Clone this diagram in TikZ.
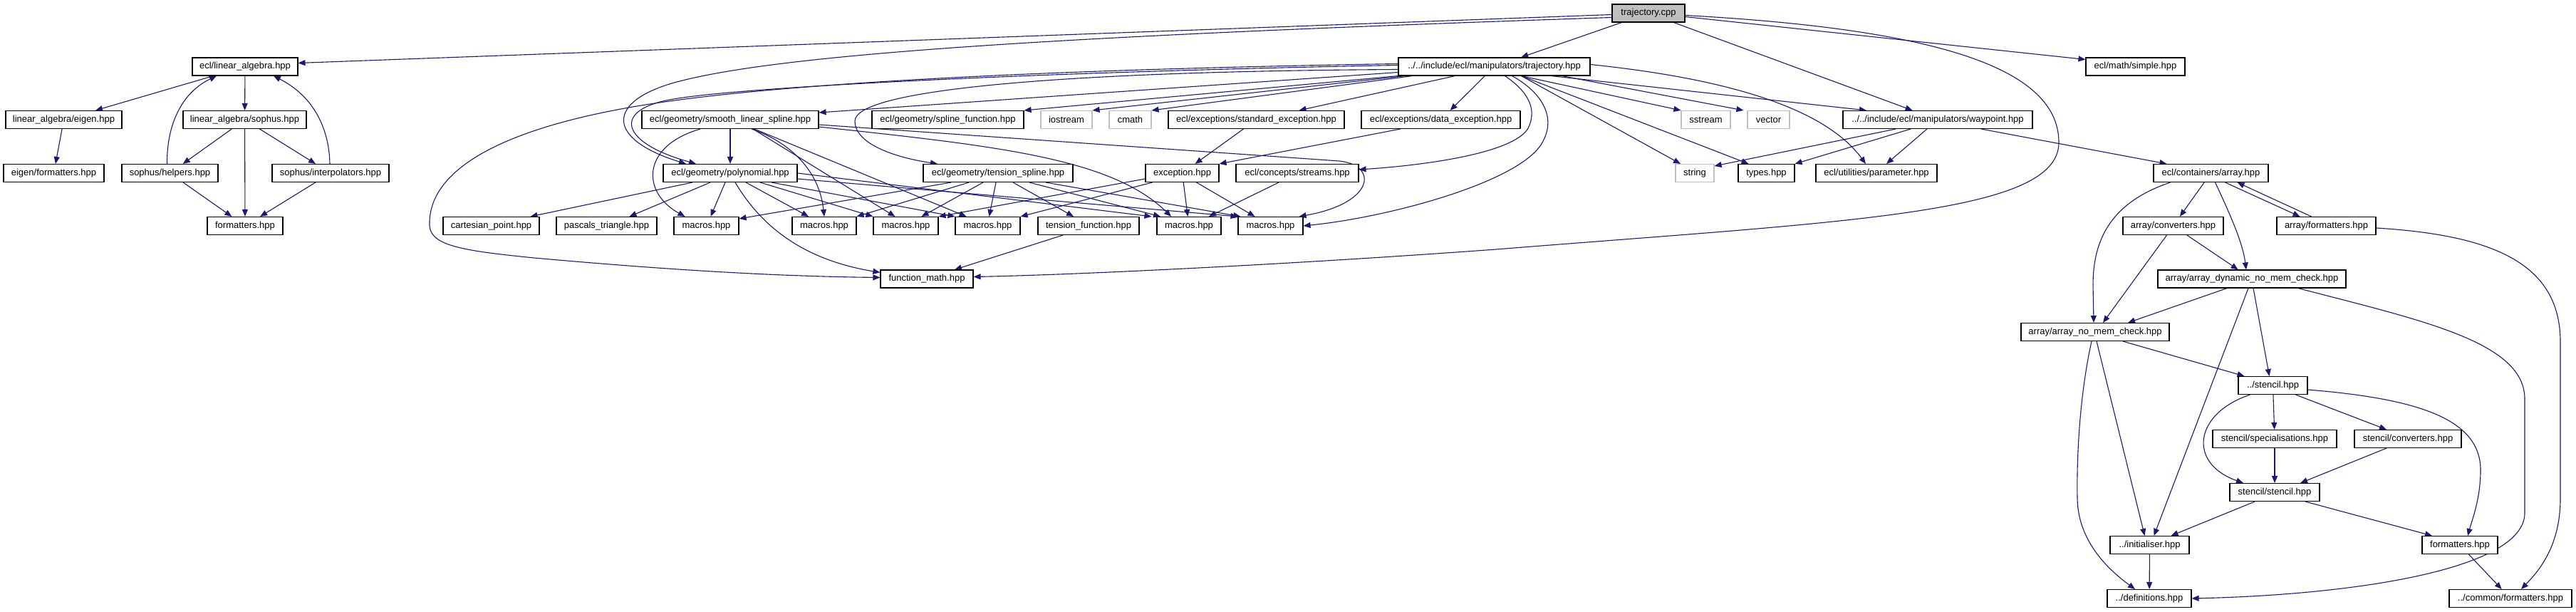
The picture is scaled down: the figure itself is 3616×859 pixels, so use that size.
\documentclass[tikz,border=0pt]{standalone}
\usepackage{fontspec}
\setmainfont{Liberation Sans}
\usetikzlibrary{arrows.meta,backgrounds}
\definecolor{edgec}{HTML}{191970}
\definecolor{sysc}{HTML}{BFBFBF}
\definecolor{mainfill}{HTML}{BFBFBF}
\tikzset{
  box/.style={draw=black,line width=1.1pt,fill=white,minimum height=25pt,inner sep=0pt,font=\fontsize{13}{15}\selectfont},
  sysbox/.style={box,draw=sysc},
  mainbox/.style={box,fill=mainfill},
  dep/.style={draw=edgec,line width=1.1pt,-{Triangle[length=10pt,width=8pt]}},
}
\newcommand\gnode[6][box]{\node[#1,minimum width=#5pt] (#2) at (#3,#4) {#6};}
\begin{document}
\begin{tikzpicture}[x=1pt,y=-1pt]
\useasboundingbox (0,0) rectangle (3616,859);
% nodes
\gnode[mainbox]{tcpp}{2314}{18.5}{102}{trajectory.cpp}
\gnode{la}{344}{93.5}{148}{ecl/linear\_algebra.hpp}
\gnode{trajh}{2097.5}{93.5}{269}{../../include/ecl/manipulators/trajectory.hpp}
\gnode{simple}{2997.5}{93.5}{139}{ecl/math/simple.hpp}
\gnode{eigen}{89.5}{168}{163}{linear\_algebra/eigen.hpp}
\gnode{sophus}{343.5}{168}{173}{linear\_algebra/sophus.hpp}
\gnode{smooth}{1025}{168}{248}{ecl/geometry/smooth\_linear\_spline.hpp}
\gnode{splinef}{1330.5}{168}{213}{ecl/geometry/spline\_function.hpp}
\gnode[sysbox]{iostream}{1497}{168}{72}{iostream}
\gnode[sysbox]{cmath}{1586.5}{168}{59}{cmath}
\gnode{stdexc}{1763.5}{168}{247}{ecl/exceptions/standard\_exception.hpp}
\gnode{dataexc}{2022.5}{168}{223}{ecl/exceptions/data\_exception.hpp}
\gnode[sysbox]{sstream}{2394.5}{168}{69}{sstream}
\gnode[sysbox]{vector}{2482.5}{168}{59}{vector}
\gnode{waypoint}{2720}{168}{266}{../../include/ecl/manipulators/waypoint.hpp}
\gnode{eigfmt}{75.5}{243}{141}{eigen/formatters.hpp}
\gnode{helpers}{238.5}{243}{135}{sophus/helpers.hpp}
\gnode{interp}{464}{243}{164}{sophus/interpolators.hpp}
\gnode{poly}{1025}{243}{188}{ecl/geometry/polynomial.hpp}
\gnode{tension}{1401}{243}{210}{ecl/geometry/tension\_spline.hpp}
\gnode{exception}{1659.5}{243}{103}{exception.hpp}
\gnode{streams}{1821}{243}{172}{ecl/concepts/streams.hpp}
\gnode[sysbox]{string}{2379}{243}{54}{string}
\gnode{types}{2479.5}{243}{79}{types.hpp}
\gnode{param}{2634}{243}{170}{ecl/utilities/parameter.hpp}
\gnode{array}{3103.5}{243}{161}{ecl/containers/array.hpp}
\gnode{fmt}{344}{317}{106}{formatters.hpp}
\gnode{cart}{689.5}{317}{135}{cartesian\_point.hpp}
\gnode{pascal}{851.5}{317}{141}{pascals\_triangle.hpp}
\gnode{mA}{991.5}{317}{91}{macros.hpp}
\gnode{mB}{1157}{317}{90}{macros.hpp}
\gnode{mC}{1271.5}{317}{91}{macros.hpp}
\gnode{mD}{1386.5}{317}{91}{macros.hpp}
\gnode{tfun}{1528}{317}{142}{tension\_function.hpp}
\gnode{mE}{1669}{317}{90}{macros.hpp}
\gnode{mF}{1783.5}{317}{91}{macros.hpp}
\gnode{conv}{3050.5}{317}{141}{array/converters.hpp}
\gnode{afmt}{3265.5}{317}{139}{array/formatters.hpp}
\gnode{fmath}{1301}{391.5}{130}{function\_math.hpp}
\gnode{adyn}{3161}{391.5}{264}{array/array\_dynamic\_no\_mem\_check.hpp}
\gnode{anomem}{2941}{466}{208}{array/array\_no\_mem\_check.hpp}
\gnode{stencil}{3190.5}{541}{97}{../stencil.hpp}
\gnode{spec}{3193}{616}{174}{stencil/specialisations.hpp}
\gnode{sconv}{3380}{616}{150}{stencil/converters.hpp}
\gnode{sst}{3193}{691}{126}{stencil/stencil.hpp}
\gnode{init}{3017.5}{765}{111}{../initialiser.hpp}
\gnode{fmt2}{3453}{765}{106}{formatters.hpp}
\gnode{defs}{3017}{840}{118}{../definitions.hpp}
\gnode{cfmt}{3524}{840}{172}{../common/formatters.hpp}
% edges
\begin{scope}[on background layer]
\fill[white] (0,0) rectangle (3616,859);
% linear algebra group
\draw[dep] (la) -- (eigen);
\draw[dep] (la) -- (sophus);
\draw[dep] (eigen) -- (eigfmt);
\draw[dep] (sophus) -- (helpers);
\draw[dep] (sophus) -- (interp);
\draw[dep] (sophus) -- (fmt);
\draw[dep] (helpers) -- (fmt);
\draw[dep] (interp) -- (fmt);
\draw[dep] ([xshift=-4pt]helpers.north) .. controls (234,175) and (255,130) .. ([xshift=-40pt]la.south);
\draw[dep] ([xshift=-1pt]interp.north) .. controls (462,180) and (440,135) .. ([xshift=40pt]la.south);
% trajectory.cpp
\draw[dep] ([yshift=-2pt]tcpp.west) -- ([yshift=5pt]la.east);
\draw[dep] ([yshift=-6pt]tcpp.west) .. controls (1500,50) and (1100,75) .. (950,115) .. controls (850,142) and (850,195) .. ([xshift=-62pt]poly.north);
\draw[dep] (tcpp) -- (trajh);
\draw[dep] (tcpp) -- (waypoint);
\draw[dep] ([yshift=-5pt]tcpp.east) -- ([yshift=10pt]simple.west);
\draw[dep] ([yshift=-3pt]tcpp.east) .. controls (2700,40) and (2890,90) .. (2890,200) .. controls (2890,300) and (2600,310) .. (2100,350) .. controls (1800,372) and (1500,386) .. ([yshift=3pt]fmath.east);
% trajectory.hpp
\draw[dep] ([yshift=-8pt]trajh.west) -- ([yshift=10pt]smooth.east);
\draw[dep] (trajh.south west) -- (splinef.north east);
\draw[dep] ([xshift=10pt]trajh.south west) -- (iostream.north east);
\draw[dep] ([xshift=20pt]trajh.south west) -- (cmath.north east);
\draw[dep] ([xshift=80pt]trajh.south west) -- ([xshift=60pt]stdexc.north);
\draw[dep] (trajh) -- (dataexc);
\draw[dep] ([yshift=2pt]trajh.west) .. controls (1500,100) and (1040,121) .. (940,140) .. controls (860,155) and (870,200) .. ([xshift=-48pt]poly.north);
\draw[dep] ([yshift=-4pt]trajh.west) .. controls (1500,100) and (1200,125) .. (1200,170) .. controls (1200,200) and (1250,220) .. ([xshift=-85pt]tension.north);
\draw[dep] ([yshift=4pt]trajh.west) .. controls (1500,97) and (1100,115) .. (900,148) .. controls (700,181) and (600,240) .. (603,317) .. controls (605,345) and (650,352) .. (750,362) .. controls (950,380) and (1100,388) .. ([yshift=2pt]fmath.west);
\draw[dep] ([xshift=38pt]trajh.south) -- (sstream.north west);
\draw[dep] ([xshift=95pt]trajh.south) -- ([xshift=-5pt]vector.north west);
\draw[dep] ([xshift=38pt]trajh.south) -- ([xshift=-20pt]string.north);
\draw[dep] ([xshift=38pt]trajh.south) -- ([xshift=-25pt]types.north);
\draw[dep] ([xshift=80pt]trajh.south) -- ([xshift=-100pt]waypoint.north);
\draw[dep] ([yshift=3pt]trajh.east) .. controls (2420,110) and (2560,150) .. ([xshift=-15pt]param.north);
\draw[dep] ([xshift=15pt]trajh.south) .. controls (2140,125) and (2160,150) .. (2145,180) .. controls (2125,215) and (2000,232) .. ([yshift=5pt]streams.east);
\draw[dep] ([xshift=25pt]trajh.south) .. controls (2165,130) and (2185,165) .. (2165,200) .. controls (2135,255) and (1950,305) .. (mF.east);
% smooth_linear_spline
\draw[dep] (smooth) -- (poly);
\draw[dep] ([xshift=-42pt]smooth.south) .. controls (900,205) and (900,270) .. ([xshift=-30pt]mA.north);
\draw[dep] ([xshift=30pt]smooth.south) .. controls (1110,200) and (1150,240) .. (mB.north);
\draw[dep] ([xshift=32pt]smooth.south) -- ([xshift=-15pt]mC.north);
\draw[dep] ([xshift=34pt]smooth.south) -- ([xshift=-30pt]mD.north);
\draw[dep] ([yshift=-10pt]smooth.east) .. controls (1400,205) and (1560,222) .. ([xshift=-25pt]mE.north);
\draw[dep] ([yshift=-7pt]smooth.east) -- (1880,226) .. controls (1935,232) and (1930,285) .. ([xshift=40pt]mF.north);
% polynomial
\draw[dep] ([xshift=-53pt]poly.south) -- ([xshift=55pt]cart.north);
\draw[dep] ([xshift=-28pt]poly.south) -- ([xshift=32pt]pascal.north);
\draw[dep] ([xshift=-7pt]poly.south) -- ([xshift=6pt]mA.north);
\draw[dep] ([xshift=7pt]poly.south) .. controls (1070,320) and (1130,365) .. ([yshift=-4pt]fmath.north west);
\draw[dep] ([xshift=22pt]poly.south) -- ([xshift=-22pt]mB.north);
\draw[dep] ([xshift=42pt]poly.south) -- (mC.north west);
\draw[dep] ([xshift=58pt]poly.south) -- (mD.north west);
\draw[dep] (poly.east) -- ([xshift=-7pt]mE.north west);
\draw[dep] ([yshift=-8pt]poly.east) -- (mF.north west);
% tension_spline
\draw[dep] ([xshift=-66pt]tension.south) -- ([yshift=10pt]mA.east);
\draw[dep] ([xshift=-41pt]tension.south) -- (mB.north east);
\draw[dep] ([xshift=-21pt]tension.south) -- ([xshift=22pt]mC.north);
\draw[dep] ([xshift=-3pt]tension.south) -- ([xshift=2pt]mD.north);
\draw[dep] ([xshift=21pt]tension.south) -- ([xshift=-21pt]tfun.north);
\draw[dep] ([xshift=44pt]tension.south) -- ([xshift=-40pt]mE.north);
\draw[dep] ([xshift=67pt]tension.south) -- ([xshift=4pt]mF.north west);
\draw[dep] ([xshift=-36pt]tfun.south) -- ([xshift=39pt]fmath.north);
% exceptions
\draw[dep] (stdexc) -- (exception);
\draw[dep] ([xshift=-57pt]dataexc.south) -- (exception.north east);
\draw[dep] ([yshift=-8pt]exception.west) -- (mC.north east);
\draw[dep] ([xshift=-42pt]exception.south) -- (mD.north east);
\draw[dep] (exception) -- (mE);
\draw[dep] ([xshift=20pt]exception.south) -- ([xshift=-22pt]mF.north);
\draw[dep] ([xshift=-26pt]streams.south) -- ([xshift=28pt]mE.north);
% waypoint
\draw[dep] ([xshift=-59pt]waypoint.south) -- ([yshift=10pt]string.east);
\draw[dep] ([xshift=-38pt]waypoint.south) -- (types.north east);
\draw[dep] ([xshift=-15pt]waypoint.south) -- ([xshift=14pt]param.north);
\draw[dep] ([xshift=61pt]waypoint.south) -- ([xshift=-62pt]array.north);
% array
\draw[dep] (array) -- (conv);
\draw[dep] ([xshift=6pt]array.south) .. controls (3130,300) and (3148,340) .. ([xshift=-8pt]adyn.north);
\draw[dep] ([xshift=20pt]array.south) -- ([xshift=-37pt]afmt.north);
\draw[dep] ([xshift=-21pt]afmt.north) -- ([xshift=37pt]array.south);
\draw[dep] ([xshift=-57pt]array.south) .. controls (2960,285) and (2938,340) .. (2938,400) -- ([xshift=-2pt]anomem.north);
\draw[dep] (conv) -- (adyn);
\draw[dep] ([xshift=-9pt]conv.south) -- ([xshift=11pt]anomem.north);
\draw[dep] ([yshift=-3pt]afmt.east) .. controls (3500,330) and (3594,370) .. (3594,480) -- (3594,700) .. controls (3594,770) and (3560,805) .. ([xshift=15pt]cfmt.north);
\draw[dep] ([xshift=-35pt]adyn.south) -- ([xshift=46pt]anomem.north);
\draw[dep] ([xshift=-5pt]adyn.south) -- ([xshift=6pt]init.north);
\draw[dep] ([xshift=2pt]adyn.south) -- ([xshift=-5pt]stencil.north);
\draw[dep] ([xshift=65pt]adyn.south) .. controls (3400,450) and (3544,480) .. (3544,560) -- (3544,720) .. controls (3544,800) and (3300,835) .. (defs.east);
\draw[dep] ([xshift=39pt]anomem.south) -- ([xshift=-40pt]stencil.north);
\draw[dep] ([xshift=2pt]anomem.south) -- ([xshift=-7pt]init.north);
\draw[dep] ([xshift=-5pt]anomem.south) .. controls (2918,560) and (2915,650) .. (2916,700) .. controls (2917,760) and (2960,800) .. ([xshift=-20pt]defs.north);
\draw[dep] (stencil) -- (spec);
\draw[dep] ([xshift=32pt]stencil.south) -- ([xshift=-30pt]sconv.north);
\draw[dep] ([xshift=-32pt]stencil.south) .. controls (3080,580) and (3070,650) .. ([xshift=-44pt]sst.north);
\draw[dep] ([yshift=-6pt]stencil.east) .. controls (3400,560) and (3482,590) .. (3482,660) .. controls (3482,700) and (3470,730) .. ([xshift=11pt]fmt2.north);
\draw[dep] (spec) -- (sst);
\draw[dep] ([xshift=-30pt]sconv.south) -- ([xshift=36pt]sst.north);
\draw[dep] ([xshift=-28pt]sst.south) -- ([xshift=30pt]init.north);
\draw[dep] ([xshift=43pt]sst.south) -- ([xshift=-39pt]fmt2.north);
\draw[dep] (init) -- (defs);
\draw[dep] (fmt2) -- (cfmt);
\end{scope}
\end{tikzpicture}
\end{document}
